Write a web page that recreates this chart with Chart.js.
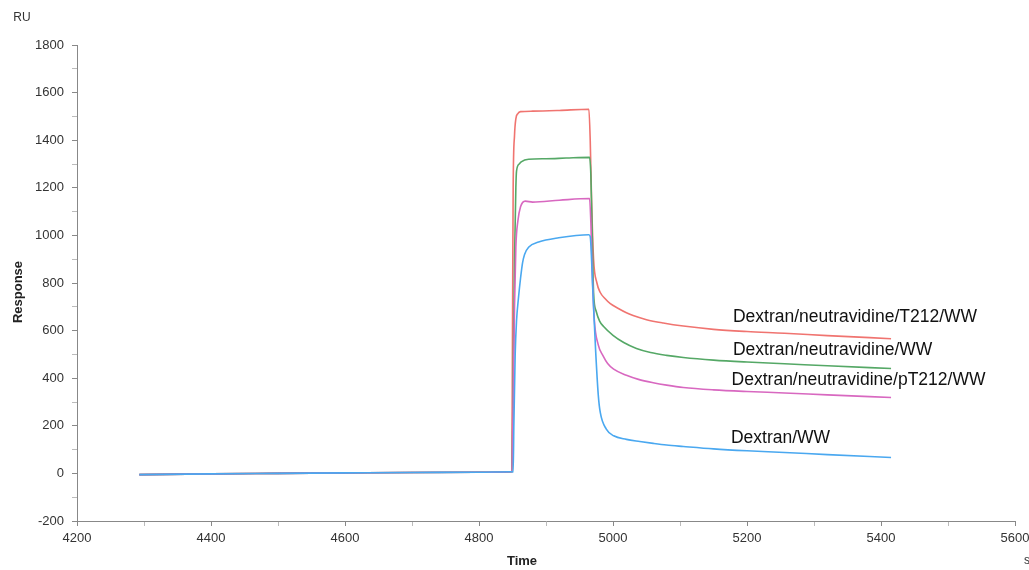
<!DOCTYPE html>
<html>
<head>
<meta charset="utf-8">
<script src="https://cdn.jsdelivr.net/npm/chart.js@4.4.1/dist/chart.umd.min.js"></script>
<style>
  html, body { margin: 0; padding: 0; background: #fff; }
  #wrap { width: 1029px; height: 570px; position: relative; }
</style>
</head>
<body>
<div id="wrap"><canvas id="sensorgram"></canvas></div>
<script>
// Baseline shared by all curves (time in s, response in RU)
const baseTime = [4293, 4400, 4500, 4600, 4700, 4800, 4849];
const baseResp = [-5, -2, 0, 2, 4, 5, 7];

// Dextran/neutravidine/T212/WW (red)
const redTime = [4850, 4851, 4853, 4855, 4858, 4862, 4880, 4920, 4964, 4966, 4968, 4971, 4976, 4981, 4988, 4996, 5008, 5020, 5030, 5050, 5075, 5105, 5150, 5200, 5256, 5320, 5415];
const redResp = [600, 1200, 1420, 1490, 1512, 1520, 1522, 1525, 1530, 1400, 1150, 900, 800, 760, 735, 713, 693, 675, 663, 646, 632, 619, 605, 596, 589, 579, 566];

// Dextran/neutravidine/WW (green)
const greenTime = [4851, 4853, 4855, 4856, 4860, 4863, 4874, 4900, 4930, 4965, 4967, 4969, 4971, 4975, 4980, 4986, 5000, 5016, 5035, 5056, 5080, 5105, 5150, 5200, 5256, 5320, 5415];
const greenResp = [400, 900, 1200, 1270, 1300, 1309, 1320, 1322, 1325, 1328, 1250, 1000, 760, 680, 640, 617, 580, 550, 525, 508, 496, 487, 476, 468, 461, 452, 441];

// Dextran/neutravidine/pT212/WW (magenta)
const pinkTime = [4851, 4853, 4855, 4858, 4862, 4869, 4880, 4920, 4965, 4967, 4969, 4972, 4978, 4985, 4992, 5001, 5020, 5038, 5060, 5080, 5105, 5150, 5200, 5256, 5320, 5415];
const pinkResp = [300, 700, 950, 1060, 1120, 1144, 1140, 1148, 1155, 1050, 850, 650, 540, 495, 462, 438, 412, 395, 381, 371, 361, 351, 344, 338, 330, 319];

// Dextran/WW (blue)
const blueTime = [4851, 4852, 4854, 4856, 4859, 4862, 4865, 4868, 4874, 4889, 4919, 4964, 4966, 4970, 4974, 4978, 4981, 4990, 5001, 5020, 5040, 5060, 5080, 5105, 5150, 5200, 5256, 5320, 5415];
const blueResp = [6, 200, 500, 640, 740, 820, 885, 920, 950, 972, 990, 1003, 995, 760, 520, 330, 256, 186, 158, 143, 134, 126, 119, 113, 103, 95, 88, 79, 67];

const seriesNames = ['Dextran/neutravidine/T212/WW', 'Dextran/neutravidine/WW', 'Dextran/neutravidine/pT212/WW', 'Dextran/WW'];
// where each name is written, in data units
const labelTime = [5179, 5179, 5177, 5176];
const labelResp = [655, 517, 391, 147];

const xTicks = { min: 4200, max: 5600, step: 200 };
const yTicks = { min: -200, max: 1800, step: 200 };

function points(t, v) {
    const xs = baseTime.concat(t);
    const ys = baseResp.concat(v);
    return xs.map((x, i) => ({ x: x, y: ys[i] }));
}

const colors = ['#f07470', '#55a866', '#d868c0', '#4aa8f0'];

const data = {
    datasets: [
        { label: seriesNames[0], data: points(redTime, redResp), borderColor: colors[0], order: 3 },
        { label: seriesNames[1], data: points(greenTime, greenResp), borderColor: colors[1], order: 2 },
        { label: seriesNames[2], data: points(pinkTime, pinkResp), borderColor: colors[2], order: 1 },
        { label: seriesNames[3], data: points(blueTime, blueResp), borderColor: colors[3], order: 0 }
    ]
};

// textes en plus: noms des courbes, titres des axes, unites
const extraText = {
    id: 'extraText',
    afterDatasetsDraw(chart) {
        const ctx = chart.ctx;
        const xs = chart.scales.x, ys = chart.scales.y;
        ctx.save();
        ctx.fillStyle = '#111';
        ctx.font = '17.5px "Liberation Sans", Arial, sans-serif';
        ctx.textAlign = 'left';
        ctx.textBaseline = 'middle';
        seriesNames.forEach((name, i) => {
            ctx.fillText(name, xs.getPixelForValue(labelTime[i]), ys.getPixelForValue(labelResp[i]));
        });
        ctx.fillStyle = '#333';
        ctx.font = '12px "Liberation Sans", Arial, sans-serif';
        ctx.textAlign = 'center';
        ctx.fillText('RU', 22, 18);
        ctx.fillText('s', 1027, 561);
        // titres des axes
        ctx.fillStyle = '#222';
        ctx.font = 'bold 13px "Liberation Sans", Arial, sans-serif';
        ctx.fillText('Time', 522, 561);
        ctx.translate(18, 292);
        ctx.rotate(-Math.PI / 2);
        ctx.fillText('Response', 0, 0);
        ctx.restore();
    }
};

const tickFont = { family: '"Liberation Sans", Arial, sans-serif', size: 13 };

const config = {
    type: 'line',
    data: data,
    options: {
        responsive: true,
        maintainAspectRatio: false,
        animation: false,
        layout: { padding: { left: 0, right: 14, top: 45, bottom: 0 } },
        elements: {
            point: { radius: 0 },
            line: { borderWidth: 1.6, cubicInterpolationMode: 'monotone', fill: false }
        },
        plugins: {
            legend: { display: false },
            tooltip: { enabled: false }
        },
        scales: {
            x: {
                type: 'linear',
                min: xTicks.min,
                max: xTicks.max,
                afterFit(scale) {
                    scale.height = 49;
                    scale.paddingLeft = 0;
                    scale.paddingRight = 0;
                },
                ticks: {
                    stepSize: 100,
                    autoSkip: false,
                    maxRotation: 0,
                    padding: 5,
                    color: '#333',
                    font: tickFont,
                    callback: v => (v % xTicks.step === 0 ? v : '')
                },
                grid: {
                    drawOnChartArea: false,
                    tickLength: 5,
                    tickColor: c => (c.tick && c.tick.value % xTicks.step === 0 ? '#888' : '#bbb')
                },
                border: { color: '#888', width: 1 }
            },
            y: {
                min: yTicks.min,
                max: yTicks.max,
                afterFit(scale) {
                    scale.width = 77;
                    scale.paddingTop = 0;
                    scale.paddingBottom = 0;
                },
                ticks: {
                    stepSize: 100,
                    autoSkip: false,
                    padding: 8,
                    color: '#333',
                    font: tickFont,
                    callback: v => (v % yTicks.step === 0 ? v : '')
                },
                grid: {
                    drawOnChartArea: false,
                    tickLength: 5,
                    tickColor: c => (c.tick && c.tick.value % yTicks.step === 0 ? '#888' : '#bbb')
                },
                border: { color: '#888', width: 1 }
            }
        }
    },
    plugins: [extraText]
};

const sensorgram = new Chart(document.getElementById('sensorgram'), config);
</script>
</body>
</html>
